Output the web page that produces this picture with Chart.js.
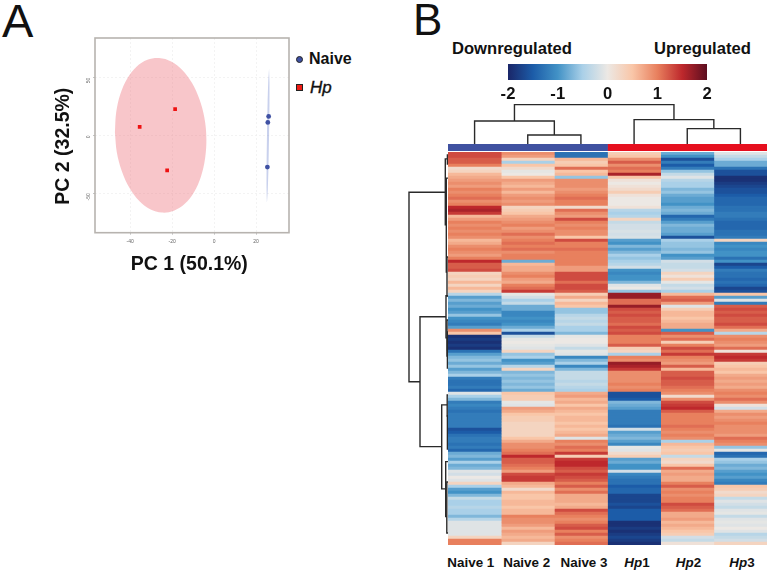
<!DOCTYPE html>
<html><head><meta charset="utf-8">
<script src="https://cdn.jsdelivr.net/npm/chart.js@4/dist/chart.umd.min.js"></script>
<style>
html,body{margin:0;padding:0;background:#fff;overflow:hidden;width:771px;height:573px}
body{font-family:"Liberation Sans",Arial,sans-serif;color:#111;position:relative}
.box{position:absolute}
.box canvas{display:block}
.t{position:absolute;white-space:nowrap;line-height:1;font-weight:700}
.c{transform:translate(-50%,-50%)}
</style></head><body>
<div class="t" style="left:2px;top:-3px;font-size:47px;font-weight:400">A</div>
<div class="t" style="left:413px;top:-2px;font-size:44px;font-weight:400">B</div>
<div class="box" style="left:52px;top:0;width:243px;height:276px"><canvas id="pca"></canvas></div>
<div class="box" style="left:296px;top:56px;width:7px;height:7px;background:#3f51a3;border:.6px solid #222;border-radius:50%;box-sizing:border-box"></div>
<div class="box" style="left:296px;top:84px;width:7px;height:7px;background:#ee1c14;border:.8px solid #222;box-sizing:border-box"></div>
<div class="t" style="left:309px;top:51px;font-size:16px">Naive</div>
<div class="t" style="left:310px;top:79px;font-size:17px;font-style:italic;font-weight:400;-webkit-text-stroke:.35px #111">Hp</div>
<div class="t" style="left:452px;top:41px;font-size:16.6px">Downregulated</div>
<div class="t" style="left:654px;top:41px;font-size:16.6px">Upregulated</div>
<div class="box" style="left:488px;top:62px;width:238px;height:42px"><canvas id="bar"></canvas></div>
<div class="box" style="left:448px;top:104px;width:319px;height:40px"><canvas id="cd"></canvas></div>
<div class="box" style="left:448px;top:144px;width:319px;height:7px"><canvas id="ann"></canvas></div>
<div class="box" style="left:405px;top:152px;width:43px;height:393px"><canvas id="rd"></canvas></div>
<div class="box" style="left:448px;top:152px;width:319px;height:393px"><canvas id="heat"></canvas></div>
<div class="t c" style="left:470.8px;top:563px;font-size:13.4px">Naive 1</div>
<div class="t c" style="left:526.7px;top:563px;font-size:13.4px">Naive 2</div>
<div class="t c" style="left:584px;top:563px;font-size:13.4px">Naive 3</div>
<div class="t c" style="left:637px;top:563px;font-size:13.4px"><i>Hp</i>1</div>
<div class="t c" style="left:688.5px;top:563px;font-size:13.4px"><i>Hp</i>2</div>
<div class="t c" style="left:742px;top:563px;font-size:13.4px"><i>Hp</i>3</div>
<script>
// PCA
const naivePts=[{x:26,y:16.4},{x:25.6,y:11.2},{x:25.4,y:-27.4}];
const hpPts=[{x:-18.6,y:22.7},{x:-35.5,y:7.4},{x:-22.4,y:-30.2}];
const hpEllipse=[[-47.3,2.8],[-46.7,20],[-44.7,35.9],[-41.4,49.3],[-37,59.4],[-31.8,65.4],[-26.2,67],[-20.5,64],[-15.2,56.7],[-10.6,45.5],[-7,31.2],[-4.6,14.8],[-3.7,-2.6],[-4.3,-19.8],[-6.3,-35.7],[-9.6,-49.1],[-14,-59.2],[-19.2,-65.2],[-24.8,-66.8],[-30.5,-63.8],[-35.8,-56.5],[-40.4,-45.3],[-44,-31],[-46.4,-14.6],[-47.3,2.8]];
const naiveEllipse=[[26.2,57.9],[26.4,46.3],[26.4,29],[26.2,0],[25.9,-29],[25.6,-46.3],[25.2,-57.9],[25.0,-46.3],[25.0,-29],[25.2,0],[25.5,29],[25.8,46.3],[26.2,57.9]];
const pcaXTicks=[-40,-20,0,20];
const pcaYTicks=[-50,0,50];
// Colour key
const keyTicks=[-2,-1,0,1,2];
const keyValues=[-2,-1.5,-1,-0.5,0,0.5,1,1.5,2];
const keyColors=[[26,38,104],[28,92,168],[66,146,198],[170,208,232],[236,232,228],[249,198,168],[232,128,94],[190,40,44],[92,14,32]];
// Heatmap, one array per sample, top row first
const samples=["Naive 1","Naive 2","Naive 3","Hp1","Hp2","Hp3"];
const naive1=[1.3,1.3,1.2,1.2,1.0,.2,.3,.6,.7,.8,.9,.8,1.0,.9,1.0,1.1,.9,1.0,1.5,1.6,1.4,.6,.8,1.0,.9,1.0,.9,1.0,.9,.6,.7,.9,1.0,.9,.8,1.0,1.5,1.2,1.2,1.3,.3,.4,.3,.6,.3,
.6,.3,-.4,-.9,-.7,-.9,-.8,-1.0,-.9,-.6,-1.0,-1.1,-1.2,-.9,.9,.5,-1.9,-1.8,-1.9,-1.8,-1.9,-1.3,-.9,-.7,-.6,-.8,-.6,-.9,-.7,-.5,-1.2,-1.3,-1.3,-1.2,-1.4,-.1,-.5,-.7,-1.2,-1.1,-1.2,-1.3,-1.2,-1.2,-1.2,
-1.2,-1.2,-1.6,-1.5,-1.3,-1.2,-1.2,-1.3,-1.2,-1.4,-.8,-.7,-.9,-.5,-.8,-.7,-.1,-.2,0,-.1,.3,-.5,-.9,-1.0,-.7,-.3,-.5,-.5,-.4,-.5,-.5,-.7,-.4,-.1,-.1,-.1,-.1,-.1,.3,1.0,1.0];
const naive2=[.9,.8,.3,-.5,.5,.2,-.05,0,.5,.8,.7,.6,.8,.6,.8,.9,.8,.9,.3,.4,.5,.7,.8,.9,1.0,.8,.9,1.1,.9,1.0,1.1,1.0,1.1,.9,1.0,1.0,-.8,.6,.7,.7,.9,1.0,.8,.7,1.0,
1.1,1.4,-.05,-.2,-.5,-.3,-.8,-.8,-1.1,-1.1,-1.0,-1.1,-1.0,-.8,-.5,-1.6,-.3,-.05,0,-.05,-.1,.3,-.6,-.5,-1.0,-.9,-.4,.3,-.7,-.6,-.7,-.6,-.7,-.6,-.8,.5,.4,.4,-.05,-.1,.8,.7,.5,.4,.4,
.3,.3,.3,.3,.3,.5,.7,.9,.9,1.0,1.1,1.5,1.2,1.2,1.1,1.0,.8,1.3,1.4,1.4,.7,.6,.2,.6,.5,.5,.6,.6,.5,.6,.6,1.0,.9,.9,.8,.6,.8,.7,.6,.7,.3];
const naive3=[-1.3,-1.3,.6,.4,.5,1.1,.5,.6,-.6,.9,.9,.9,.8,.9,1.0,1.1,1.0,1.0,.2,1.1,.9,.8,1.3,1.0,.9,1.0,.9,.9,.5,1.3,1.0,1.0,1.1,1.0,1.0,1.0,1.0,1.0,.8,.8,1.3,1.3,1.3,1.1,1.3,
1.3,1.2,.4,.7,.3,.6,.5,-.6,-.6,-.4,-.3,-.4,-.3,-.5,-.5,-.7,-.05,0,0,-.1,-.3,-.05,-.1,-1.1,-.7,-.5,-1.1,-.7,-.3,-.3,-.3,-.4,-.3,-.4,-.5,.7,.8,.6,.7,.5,.7,.6,.5,.6,.6,
.5,.6,.5,.6,.7,-.1,1.0,.9,1.1,1.0,1.4,.4,1.4,1.5,1.5,1.3,1.2,1.4,1.3,1.2,1.0,1.2,.9,1.1,.7,.7,.7,.6,.7,1.3,1.1,1.0,.9,1.0,1.2,1.3,1.0,1.2,.9,1.0,1.1];
const hp1=[.4,.5,.9,1.2,.9,1.1,1.0,1.6,.5,.1,0,.1,.2,.4,.1,0,0,0,.1,-.4,-.5,-.4,.3,-.3,-.2,-.2,-.15,-.2,-.15,-.9,-1.0,-.7,-.9,-.7,-.5,-.6,-.5,-.4,-.2,-1.0,-1.1,-1.0,-1.0,-.7,-.1,
0,-.6,1.7,1.7,1.1,1.1,1.7,1.3,1.2,1.3,1.2,1.2,1.1,1.3,1.2,1.3,1.0,1.0,1.0,1.2,.4,.3,-.5,1.0,.9,1.7,1.6,1.4,.9,.9,.9,.9,1.0,.9,1.0,-1.6,-1.6,-1.5,-.7,-.8,-.9,-1.2,-1.2,-1.2,-1.2,
-1.2,-1.3,-.2,-.9,-.8,-.7,-.9,-1.1,-.05,-.1,.2,.4,-.9,-.8,-1.0,-1.0,-.2,-1.1,-1.2,-1.3,-1.3,-1.5,-1.4,-1.4,-1.7,-1.7,-1.7,-1.6,-1.7,-1.5,-1.5,-1.5,-1.5,-1.9,-1.9,-1.8,-1.9,-1.8,-1.7,-1.8,-1.9];
const hp2=[-.8,-1.0,-1.6,-1.2,-1.5,-1.2,-.6,-.3,-.1,-.4,-.5,-.5,-.7,-.6,-.8,-.9,-.9,-1.0,-.8,-.7,-.8,-1.4,-1.2,-.9,-.7,-.8,-.8,-.9,-1.6,-.5,-.6,-.6,-.7,-.6,-1.0,-.9,-.2,-.3,-.3,-.2,.3,.1,.4,-.05,-.3,
-.2,-.5,.6,1.1,1.2,.8,-.1,.4,.6,.6,.5,.6,.7,.7,-1.0,1.2,.9,1.1,.4,1.0,1.3,1.1,1.4,1.0,.9,.8,1.2,.6,1.2,1.2,1.3,1.2,1.2,1.1,1.0,.9,.2,.9,1.3,1.4,1.5,1.2,1.0,1.0,1.0,
1.0,1.1,1.0,.9,1.0,.9,-.5,.6,.5,.4,.5,-.3,.3,.2,.5,1.1,.7,.8,.7,.7,1.0,1.2,.9,1.0,.9,1.0,1.0,1.3,1.2,1.1,.7,.7,.8,.6,.7,.6,.5,.4,-.2,-.3,.1];
const hp3=[-.1,-.3,-.5,-.8,-.8,-1.3,-1.6,-1.6,-1.9,-1.9,-1.8,-1.7,-1.6,-1.6,-1.5,-1.4,-1.4,-1.4,-1.3,-1.3,-1.2,-1.2,-1.3,-1.4,-1.4,-1.4,-1.3,-1.3,-1.2,.3,-1.1,-1.0,-1.1,-1.0,-1.0,-1.3,-1.0,-1.7,-1.5,-1.2,-1.3,-1.3,-1.4,-1.3,-1.4,
-1.7,-1.6,.5,-.9,-.1,-1.2,1.2,1.3,1.2,1.3,1.2,1.2,1.3,1.1,.7,-.4,.9,1.0,.9,.8,1.1,.1,1.4,1.5,1.4,.4,.5,.6,.5,.7,.8,.7,.8,.7,.9,1.0,.9,1.1,.9,.1,-.2,.7,.9,.8,.9,
1.0,.9,.9,.9,.8,1.1,1.0,.9,-.6,-.05,-1.4,-1.3,-.5,-.6,-.8,-.7,-.9,-1.0,-.9,-1.1,-1.2,.5,.4,.2,.3,-.3,-.1,-.2,-.3,-.1,-.05,-.3,-.1,-.05,-.1,0,-.1,-.4,-.3,-.2,.3];
const sampleValues=[naive1,naive2,naive3,hp1,hp2,hp3];
const rowLabels=naive1.map((_,i)=>i+1);
// Sample dendrogram: [left x, left height, right x, right height, join height]
const colMerges=[[1.5,0,2.5,0,9],[0.5,0,2,9,23],[4.5,0,5.5,0,15.4],[3.5,0,5,15.4,24.4],[1.25,23,4.25,24.4,39.4]];
const annotationGroups=[3,3];
// Gene dendrogram: [top row, top height, bottom row, bottom height, join height]
const rowMerges=[[13.4,2.7,76.6,28,39],[54.9,2,98.2,6.3,28],[84.3,.8,112.3,2.3,6.3],[2.3,0,24.3,1.7,2.7],[8.7,0,40,1,1.7],[1,0,4,0,.6],[35,0,48,0,1],[47.9,0,61.9,1,2],[56,0,68,0,1],[62,0,72,0,.6],[81,0,88,0,.8],[88,0,99,0,.6],[103.2,0,121.5,1.2,2.3],[110,0,127,0,1.2],[60,0,66,0,.5]];

Chart.defaults.animation=false;
Chart.defaults.responsive=true;
Chart.defaults.maintainAspectRatio=false;
Chart.defaults.font.family='"Liberation Sans",Arial,sans-serif';
Chart.defaults.plugins.legend.display=false;
Chart.defaults.plugins.tooltip.enabled=false;

const pairs=a=>a.map(p=>({x:p[0],y:p[1]}));
const frame={id:'frame',afterDatasetsDraw(c){const a=c.chartArea,x=c.ctx;x.save();x.strokeStyle='#b7b3af';x.lineWidth=1.6;x.strokeRect(a.left,a.top,a.width,a.height);x.restore();}};
const tickList=l=>s=>{s.ticks=l.map(v=>({value:v}));};

new Chart(document.getElementById('pca'),{type:'scatter',plugins:[frame],
 data:{datasets:[
  {data:naivePts,pointStyle:'circle',pointRadius:2.4,backgroundColor:'#3f51a3',borderColor:'#3f51a3',borderWidth:0},
  {data:hpPts,pointStyle:'rect',pointRadius:2.6,backgroundColor:'#ee1111',borderColor:'#ee1111',borderWidth:0},
  {data:pairs(hpEllipse),showLine:true,tension:.35,fill:'shape',pointRadius:0,borderWidth:0,backgroundColor:'rgba(238,120,128,.42)'},
  {data:pairs(naiveEllipse),showLine:true,tension:.2,fill:'shape',pointRadius:0,borderWidth:0,backgroundColor:'rgba(120,140,210,.4)'}
 ]},
 options:{layout:{padding:{top:38,right:6,left:0,bottom:0}},
  scales:{
   x:{min:-56.8,max:35.7,afterBuildTicks:tickList(pcaXTicks),afterFit:s=>{s.height=43.3},
      grid:{color:'#eeeeee',lineWidth:.7,tickLength:2,tickColor:'#aaa'},border:{display:false,dash:[2,2]},
      ticks:{font:{size:5},color:'#666',padding:4,maxRotation:0},
      title:{display:true,text:'PC 1 (50.1%) ',font:{size:19.5,weight:'700'},color:'#111',padding:0}},
   y:{min:-84.2,max:84.3,afterBuildTicks:tickList(pcaYTicks),afterFit:s=>{s.width=43},
      grid:{color:'#eeeeee',lineWidth:.7,tickLength:2,tickColor:'#aaa'},border:{display:false,dash:[2,2]},
      ticks:{font:{size:5},color:'#666',padding:4,minRotation:90,maxRotation:90},
      title:{display:true,text:'PC 2 (32.5%)    ',font:{size:19.5,weight:'700'},color:'#111',padding:0}}
  }}});

const rgb=c=>`rgb(${c[0]},${c[1]},${c[2]})`;
function colorOf(v){
 const n=keyValues.length;
 if(v<=keyValues[0])return rgb(keyColors[0]);
 if(v>=keyValues[n-1])return rgb(keyColors[n-1]);
 let i=0;while(v>keyValues[i+1])i++;
 const f=(v-keyValues[i])/(keyValues[i+1]-keyValues[i]);
 return rgb(keyColors[i].map((c,k)=>Math.round(c+(keyColors[i+1][k]-c)*f)));
}

new Chart(document.getElementById('bar'),{type:'bar',
 data:{labels:['z'],datasets:[{data:[[-2,2]],barPercentage:1,categoryPercentage:1,
  backgroundColor(ctx){const a=ctx.chart.chartArea;if(!a)return '#ccc';
   const g=ctx.chart.ctx.createLinearGradient(a.left,0,a.right,0);
   keyValues.forEach((v,i)=>g.addColorStop((v+2)/4,rgb(keyColors[i])));return g;}}]},
 options:{indexAxis:'y',layout:{padding:{left:20,right:19,top:2,bottom:0}},
  scales:{y:{display:false},
   x:{min:-2,max:2,afterBuildTicks:tickList(keyTicks),afterFit:s=>{s.height=24},grid:{display:false,drawTicks:false},border:{display:false},
      ticks:{font:{size:16.6,weight:'700'},color:'#111',padding:4,maxRotation:0,autoSkip:false}}}}});

const hiddenAxes=(xo,yo)=>({x:Object.assign({display:false},xo),y:Object.assign({display:false},yo)});
const lineStyle={showLine:true,pointRadius:0,borderColor:'#2a2a2a',borderWidth:1.4,clip:false,tension:0};

new Chart(document.getElementById('cd'),{type:'scatter',
 data:{datasets:colMerges.map(m=>Object.assign({data:[{x:m[0],y:m[1]},{x:m[0],y:m[4]},{x:m[2],y:m[4]},{x:m[2],y:m[3]}]},lineStyle))},
 options:{scales:hiddenAxes({min:0,max:6},{min:0,max:40})}});

new Chart(document.getElementById('ann'),{type:'bar',
 data:{labels:['group'],datasets:[
  {data:[annotationGroups[0]],backgroundColor:'#3f51a0',barPercentage:1,categoryPercentage:1},
  {data:[annotationGroups[1]],backgroundColor:'#e60f1e',barPercentage:1,categoryPercentage:1}]},
 options:{indexAxis:'y',scales:hiddenAxes({min:0,max:6,stacked:true},{stacked:true})}});

new Chart(document.getElementById('rd'),{type:'scatter',
 data:{datasets:rowMerges.map(m=>Object.assign({data:[{x:m[1],y:m[0]},{x:m[4],y:m[0]},{x:m[4],y:m[2]},{x:m[3],y:m[2]}]},lineStyle))},
 options:{scales:hiddenAxes({min:0,max:43,reverse:true},{min:0,max:131,reverse:true})}});

new Chart(document.getElementById('heat'),{type:'bar',
 data:{labels:rowLabels,datasets:samples.map((s,k)=>({label:s,data:sampleValues[k].map(()=>1),
   backgroundColor:ctx=>colorOf(sampleValues[k][ctx.dataIndex]),barPercentage:1,categoryPercentage:1,borderWidth:0}))},
 options:{indexAxis:'y',scales:hiddenAxes({min:0,max:6,stacked:true},{stacked:true})}});
</script>
</body></html>
